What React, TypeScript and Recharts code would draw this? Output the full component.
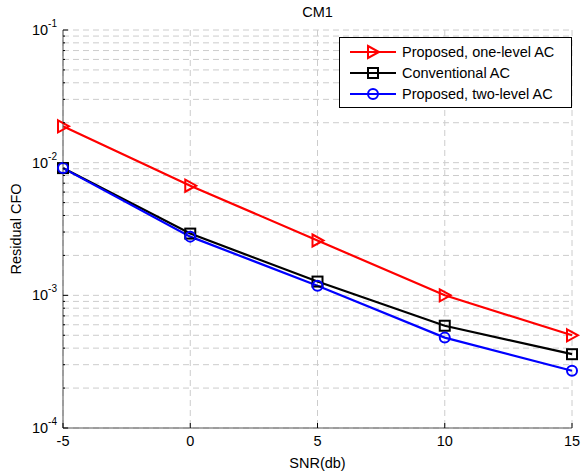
import { CartesianGrid, Line, LineChart, XAxis, YAxis } from "recharts";

const snr = [-5, 0, 5, 10, 15];
const oneLevel = [0.0188, 0.0067, 0.00259, 0.001, 0.0005];
const conventional = [0.0091, 0.00292, 0.00127, 0.00059, 0.00036];
const twoLevel = [0.0091, 0.00277, 0.00118, 0.00048, 0.00027];

const xTicks = [-5, 0, 5, 10, 15];
const decades = [1e-4, 1e-3, 1e-2];
const mantissas = [1, 2, 3, 4, 5, 6, 7, 8, 9];

const yTicks = [...decades.flatMap((d) => mantissas.map((m) => +(m * d).toPrecision(3))), 0.1];

const data = snr.map((s, i) => ({
  snr: s,
  one: oneLevel[i],
  conv: conventional[i],
  two: twoLevel[i],
}));

const font = "'Liberation Sans', Arial, sans-serif";
const fs = 14.5;

function isMajor(v: number) {
  const exp = Math.floor(Math.log10(v) + 1e-9);
  return Math.abs(v / Math.pow(10, exp) - 1) < 1e-6;
}

const LeftTick = (props: any) => {
  const { x, y, payload } = props;
  const v = payload.value;
  const major = isMajor(v);
  const exp = Math.round(Math.log10(v));
  return (
    <g>
      <line x1={x} x2={x + (major ? 5 : 2)} y1={y} y2={y} stroke="#000" />
      {major && (
        <text x={x - 6} y={y + 5} textAnchor="end" fontSize={fs} fontFamily={font} fill="#000">
          10
          <tspan dy={-8} fontSize={10}>
            {exp}
          </tspan>
        </text>
      )}
    </g>
  );
};

const RightTick = (props: any) => {
  const { x, y, payload } = props;
  const major = isMajor(payload.value);
  return <line x1={x} x2={x - (major ? 5 : 2)} y1={y} y2={y} stroke="#000" />;
};

const BottomTick = (props: any) => {
  const { x, y, payload } = props;
  return (
    <g>
      <line x1={x} x2={x} y1={y} y2={y - 5} stroke="#000" />
      <text x={x} y={y + 18} textAnchor="middle" fontSize={fs} fontFamily={font} fill="#000">
        {payload.value}
      </text>
    </g>
  );
};

const TopTick = (props: any) => {
  const { x, y } = props;
  return <line x1={x} x2={x} y1={y} y2={y + 5} stroke="#000" />;
};

function Marker({ kind, cx, cy, color }: { kind: string; cx: number; cy: number; color: string }) {
  if (kind === "tri") {
    return (
      <polygon
        points={`${cx - 5},${cy - 6} ${cx + 6},${cy} ${cx - 5},${cy + 6}`}
        fill="none"
        stroke={color}
        strokeWidth={2}
      />
    );
  }
  if (kind === "sq") {
    return <rect x={cx - 5} y={cy - 5} width={10} height={10} fill="none" stroke={color} strokeWidth={2} />;
  }
  return <circle cx={cx} cy={cy} r={5} fill="none" stroke={color} strokeWidth={2} />;
}

const series = [
  { key: "one", name: "Proposed, one-level AC", color: "#ff0000", marker: "tri" },
  { key: "conv", name: "Conventional AC", color: "#000000", marker: "sq" },
  { key: "two", name: "Proposed, two-level AC", color: "#0000ff", marker: "circ" },
];

const LegendBox = () => (
  <div
    style={{
      position: "absolute",
      left: 339,
      top: 37,
      border: "1px solid #000",
      background: "#fff",
      width: 233,
      height: 71,
      boxSizing: "border-box",
      paddingTop: 3,
      fontFamily: font,
      fontSize: fs,
    }}
  >
    {series.map((s) => (
      <div key={s.key} style={{ display: "flex", alignItems: "center", height: 21 }}>
        <svg width={62} height={16} style={{ flex: "none" }}>
          <line x1={10} x2={56} y1={8} y2={8} stroke={s.color} strokeWidth={2.2} />
          <Marker kind={s.marker} cx={33} cy={8} color={s.color} />
        </svg>
        <span>{s.name}</span>
      </div>
    ))}
  </div>
);

export default function App() {
  return (
    <div style={{ position: "absolute", left: 0, top: 0, width: 581, height: 474, background: "#fff" }}>
      <div
        style={{
          position: "absolute",
          left: 63,
          width: 509,
          top: 4,
          textAlign: "center",
          fontFamily: font,
          fontSize: fs,
          lineHeight: "17px",
        }}
      >
        CM1
      </div>
      <LineChart width={581} height={474} data={data} margin={{ top: 30, right: 9, left: 0, bottom: 0 }}>
        <CartesianGrid stroke="#cccccc" strokeDasharray="6 4" />
        <XAxis
          dataKey="snr"
          type="number"
          domain={[-5, 15]}
          ticks={xTicks}
          height={46}
          tickLine={false}
          tickSize={0}
          tickMargin={0}
          tick={<BottomTick />}
          axisLine={{ stroke: "#555" }}
          interval={0}
          label={{ value: "SNR(db)", position: "insideBottom", offset: 6, fontSize: fs, fontFamily: font, fill: "#000" }}
        />
        <XAxis
          xAxisId="top"
          orientation="top"
          dataKey="snr"
          type="number"
          domain={[-5, 15]}
          ticks={xTicks}
          height={0}
          tickLine={false}
          tickSize={0}
          tick={<TopTick />}
          axisLine={{ stroke: "#555" }}
          interval={0}
        />
        <YAxis
          type="number"
          scale="log"
          domain={[1e-4, 1e-1]}
          allowDataOverflow
          ticks={yTicks}
          width={63}
          tickLine={false}
          tickSize={0}
          tickMargin={0}
          tick={<LeftTick />}
          axisLine={{ stroke: "#555" }}
          interval={0}
          label={{
            value: "Residual CFO",
            angle: -90,
            position: "insideLeft",
            offset: 16,
            fontSize: fs,
            fontFamily: font,
            fill: "#000",
            style: { textAnchor: "middle" },
          }}
        />
        <YAxis
          yAxisId="right"
          orientation="right"
          type="number"
          scale="log"
          domain={[1e-4, 1e-1]}
          allowDataOverflow
          ticks={yTicks}
          width={0}
          tickLine={false}
          tickSize={0}
          tick={<RightTick />}
          axisLine={{ stroke: "#555" }}
          interval={0}
        />
        {series.map((s) => (
          <Line
            key={s.key}
            dataKey={s.key}
            name={s.name}
            type="linear"
            stroke={s.color}
            strokeWidth={2.2}
            isAnimationActive={false}
            dot={(p: any) => <Marker key={`${s.key}-${p.index}`} kind={s.marker} cx={p.cx} cy={p.cy} color={s.color} />}
          />
        ))}
      </LineChart>
      <LegendBox />
    </div>
  );
}
